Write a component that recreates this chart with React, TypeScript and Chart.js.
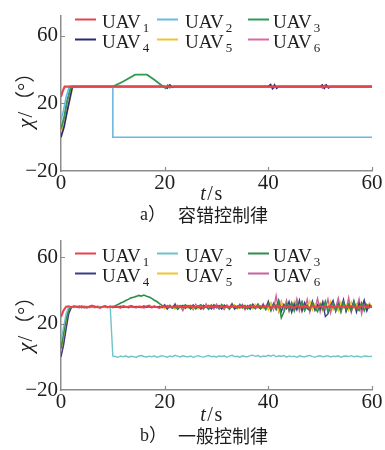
import React, { useEffect, useRef } from 'react';
import { Chart, registerables } from 'chart.js';
Chart.register(...registerables);

// ---------- shared axis settings ----------
const xTicks = [0, 20, 40, 60];
const yTicks = [-20, 20, 60];
const legendName = 'UAV';
const legendSubs = ['1', '2', '3', '4', '5', '6'];
const seriesLabels = ['UAV₁', 'UAV₂', 'UAV₃', 'UAV₄', 'UAV₅', 'UAV₆'];

const colorsA = ['#e0464e', '#6cb8e2', '#2e9a52', '#2a2a72', '#f0c52a', '#dc6aa0'];
const colorsB = ['#e8424a', '#6ec3c8', '#2e8f4a', '#3d3d86', '#f0c52a', '#c9619a'];

// ---------- panel a) fault-tolerant control law ----------
const a1T = [0, 0.3, 0.7, 60];
const a1V = [24, 27, 30, 30];
const a2T = [0, 0.5, 1.0, 1.6, 10, 10, 60];
const a2V = [10, 16, 24, 30, 30, 0, 0];
const a3T = [0, 0.6, 1.2, 2.0, 10, 12, 14.3, 16.6, 18, 19.5, 20.2, 20.6, 21.0, 21.5, 60];
const a3V = [5, 12, 22, 30, 30, 33, 37, 37, 34, 30.5, 29, 30.8, 29.3, 30, 30];
const a4T = [0, 0.6, 1.3, 2.2, 20, 20.5, 21, 21.5, 22, 40, 40.4, 40.8, 41.2, 41.6, 42, 50, 50.4, 50.8, 51.2, 51.6, 52, 60];
const a4V = [0, 6, 17, 30, 30, 29, 31, 29.5, 30, 30, 31.2, 28.8, 31, 29, 30, 30, 31, 29, 30.8, 29.2, 30, 30];
const a5T = [0, 0.7, 1.5, 2.3, 60];
const a5V = [3, 9, 19, 30, 30];
const a6T = [0, 0.5, 1.1, 1.8, 40, 40.5, 41, 41.5, 50, 50.5, 51, 51.5, 60];
const a6V = [1, 8, 19, 30, 30, 31, 29, 30, 30, 29, 31, 30, 30];

// ---------- panel b) general control law ----------
const tB = [
  0, 0.5, 1, 1.5, 2, 2.5, 3, 3.5, 4, 4.5,
  5, 5.5, 6, 6.5, 7, 7.5, 8, 8.5, 9, 9.5,
  10, 10.5, 11, 11.5, 12, 12.5, 13, 13.5, 14, 14.5,
  15, 15.5, 16, 16.5, 17, 17.5, 18, 18.5, 19, 19.5,
  20, 20.5, 21, 21.5, 22, 22.5, 23, 23.5, 24, 24.5,
  25, 25.5, 26, 26.5, 27, 27.5, 28, 28.5, 29, 29.5,
  30, 30.5, 31, 31.5, 32, 32.5, 33, 33.5, 34, 34.5,
  35, 35.5, 36, 36.5, 37, 37.5, 38, 38.5, 39, 39.5,
  40, 40.5, 41, 41.5, 42, 42.5, 43, 43.5, 44, 44.5,
  45, 45.5, 46, 46.5, 47, 47.5, 48, 48.5, 49, 49.5,
  50, 50.5, 51, 51.5, 52, 52.5, 53, 53.5, 54, 54.5,
  55, 55.5, 56, 56.5, 57, 57.5, 58, 58.5, 59, 59.5,
  60,
];
const b1 = [
  24, 28, 30.2, 30.5, 29.8, 30.6, 30.1, 29.7, 30.4, 30.0,
  29.6, 30.3, 30.8, 29.9, 30.2, 29.5, 30.1, 30.6, 29.9, 30.3,
  29.8, 30.4, 30.0, 29.6, 30.5, 30.2, 29.9, 30.7, 30.0, 29.7,
  30.3, 30.1, 29.6, 30.4, 30.9, 29.8, 30.2, 30.0, 29.5, 30.4,
  30.1, 30.6, 29.9, 30.2, 29.7, 30.5, 30.0, 30.3, 29.8, 30.4,
  30.7, 29.9, 30.1, 30.5, 29.6, 30.2, 30.0, 30.8, 29.9, 30.3,
  30.1, 29.7, 30.4, 30.0, 30.6, 29.8, 30.2, 30.5, 29.9, 30.1,
  30.4, 29.6, 30.3, 30.0, 30.7, 29.9, 30.2, 30.5, 29.8, 30.1,
  30.6, 29.5, 30.3, 30.9, 29.7, 30.2, 30.4, 29.8, 30.6, 30.0,
  29.6, 30.5, 30.1, 29.8, 30.7, 30.0, 29.5, 30.4, 30.2, 29.9,
  30.6, 29.7, 30.3, 30.0, 30.8, 29.6, 30.2, 30.5, 29.9, 30.1,
  30.4, 29.8, 30.6, 30.0, 29.5, 30.3, 30.1, 30.7, 29.9, 30.2,
  30.0,
];
const b2 = [
  10, 18, 26, 30.2, 29.8, 30.3, 30.0, 29.7, 30.4, 30.1,
  29.9, 30.2, 30.0, 29.6, 30.3, 30.1, 29.8, 30.4, 30.0, 29.9,
  0.4, 0.2, -0.3, 0.5, 0.0, 0.6, -0.2, 0.3, 0.1, -0.4,
  0.5, 0.8, 0.2, -0.1, 0.4, 0.0, 0.6, -0.3, 0.2, 0.7,
  0.3, -0.2, 0.5, 0.1, 0.9, 0.4, -0.1, 0.6, 0.2, 0.0,
  0.5, -0.3, 0.3, 0.7, 0.1, -0.2, 0.4, 0.8, 0.0, 0.3,
  -0.1, 0.5, 0.2, 0.6, -0.3, 0.4, 0.9, 0.1, 0.3, -0.2,
  0.6, 0.2, 0.0, 0.7, 1.0, 0.3, 0.8, -0.1, 0.5, 0.2,
  0.9, 0.4, 1.1, 0.0, 0.6, 0.3, 0.8, -0.2, 0.5, 0.1,
  0.4, -0.3, 0.6, 0.2, 0.0, 0.5, 0.8, 0.1, -0.2, 0.4,
  0.6, 0.0, 0.3, 0.7, -0.1, 0.4, 0.2, 0.6, -0.3, 0.3,
  0.5, 0.1, 0.7, 0.0, 0.4, 0.2, -0.2, 0.5, 0.3, 0.1,
  0.3,
];
const b3 = [
  5, 14, 23, 28.5, 30.1, 29.7, 30.4, 30.0, 29.6, 30.3,
  30.1, 29.8, 30.5, 30.0, 29.7, 30.2, 29.9, 30.4, 30.0, 30.3,
  30.2, 30.8, 31.5, 32.4, 33.0, 33.9, 34.6, 35.5, 35.9, 36.4,
  37.0, 36.6, 37.2, 36.5, 36.0, 35.2, 34.1, 33.3, 32.0, 31.0,
  30.2, 29.5, 31.0, 29.3, 30.6, 28.9, 30.8, 29.6, 31.3, 30.0,
  29.2, 30.9, 28.8, 30.5, 31.4, 29.4, 30.2, 28.7, 31.1, 29.8,
  30.6, 29.0, 31.5, 29.7, 30.3, 28.6, 31.0, 30.1, 29.3, 31.6,
  29.5, 30.8, 28.9, 31.2, 30.0, 29.1, 31.8, 29.4, 30.6, 28.5,
  32.0, 28.4, 31.5, 29.0, 33.1, 23.5, 27.0, 31.8, 28.2, 32.5,
  27.6, 31.9, 29.3, 33.0, 27.8, 30.9, 28.1, 32.6, 29.5, 27.3,
  31.7, 28.6, 33.4, 27.1, 30.5, 32.2, 28.0, 31.3, 26.9, 32.8,
  28.4, 31.0, 27.5, 33.2, 29.2, 28.0, 32.4, 27.7, 31.5, 29.6,
  30.4,
];
const b4 = [
  0, 7, 17, 26, 29.7, 30.2, 29.9, 30.4, 30.0, 29.6,
  30.3, 30.0, 29.8, 30.5, 30.1, 29.7, 30.2, 30.4, 29.9, 30.1,
  30.3, 29.8, 30.1, 30.5, 29.9, 30.2, 29.6, 30.4, 30.0, 30.3,
  29.8, 30.1, 30.6, 29.9, 30.2, 29.7, 30.4, 30.0, 30.3, 29.6,
  31.2, 28.9, 30.7, 29.4, 31.5, 28.6, 30.3, 31.0, 29.2, 30.8,
  28.8, 31.3, 29.6, 30.4, 28.7, 31.1, 29.9, 30.6, 28.9, 31.4,
  29.5, 30.9, 28.8, 31.2, 30.0, 29.3, 31.6, 28.9, 30.5, 29.7,
  31.0, 29.1, 30.7, 28.6, 31.5, 29.8, 30.3, 28.8, 31.2, 29.4,
  33.5, 27.8, 32.1, 28.5, 34.0, 27.2, 31.6, 29.0, 33.3, 26.8,
  31.9, 28.3, 34.2, 27.5, 32.7, 29.1, 28.0, 33.6, 27.9, 31.4,
  28.6, 32.8, 24.2, 25.8, 31.0, 33.9, 27.4, 32.2, 28.7, 34.5,
  27.2, 31.8, 28.5, 33.7, 26.9, 32.3, 29.0, 34.1, 27.6, 31.2,
  29.5,
];
const b5 = [
  3, 11, 21, 27.5, 30.0, 29.8, 30.3, 30.1, 29.7, 30.4,
  30.0, 29.9, 30.2, 30.5, 29.8, 30.1, 30.3, 29.7, 30.0, 30.4,
  29.9, 30.2, 30.0, 29.6, 30.4, 30.1, 29.8, 30.3, 30.5, 29.9,
  30.2, 29.7, 30.1, 30.4, 29.9, 30.3, 30.0, 29.8, 30.5, 30.1,
  29.0, 31.1, 29.8, 30.6, 28.8, 31.3, 29.5, 30.9, 29.1, 30.4,
  31.2, 29.3, 30.7, 28.9, 31.0, 29.6, 30.8, 29.2, 31.5, 29.9,
  30.4, 28.7, 31.3, 29.5, 30.9, 29.0, 30.6, 31.4, 28.9, 30.2,
  29.3, 31.1, 29.8, 30.5, 28.8, 31.6, 29.4, 30.7, 29.1, 31.0,
  28.2, 32.5, 29.4, 31.8, 27.6, 33.0, 28.9, 32.3, 29.7, 27.9,
  33.2, 28.6, 31.4, 27.4, 32.8, 29.5, 33.6, 28.1, 31.7, 29.0,
  32.4, 27.7, 31.2, 29.6, 33.5, 28.3, 30.8, 27.5, 32.9, 29.3,
  31.6, 27.9, 33.1, 29.4, 31.9, 28.1, 32.6, 29.8, 28.4, 32.0,
  30.2,
];
const b6 = [
  1, 9, 20, 27, 30.3, 29.9, 30.1, 30.4, 29.8, 30.2,
  29.7, 30.3, 30.0, 29.8, 30.4, 30.1, 29.9, 30.2, 29.6, 30.3,
  30.0, 30.4, 29.7, 30.2, 30.1, 29.8, 30.5, 30.0, 29.9, 30.3,
  30.1, 29.6, 30.4, 30.0, 29.8, 30.2, 30.5, 29.7, 30.1, 29.9,
  31.4, 28.7, 30.9, 29.3, 32.0, 28.9, 30.6, 27.8, 31.2, 29.5,
  30.8, 28.4, 31.6, 29.7, 30.2, 28.6, 31.9, 29.4, 30.5, 28.8,
  31.7, 29.2, 30.4, 28.5, 31.3, 29.9, 32.2, 28.7, 30.6, 29.1,
  31.5, 28.3, 30.9, 29.6, 31.8, 28.9, 30.5, 29.2, 32.1, 28.4,
  30.7, 32.4, 28.2, 36.8, 27.5, 33.4, 28.6, 34.1, 27.3, 32.6,
  29.0, 35.0, 27.7, 33.2, 28.4, 34.6, 26.9, 32.9, 29.3, 35.2,
  27.0, 33.5, 28.8, 34.7, 26.5, 32.1, 29.6, 35.4, 27.4, 33.0,
  28.1, 35.6, 26.8, 32.5, 29.2, 34.9, 25.8, 33.6, 28.3, 32.2,
  30.0,
];

// ---------- styling ----------
const AXIS = '#8c8c8c';
const TEXT = '#1e1e1e';
const SERIF = '"Liberation Serif", "Times New Roman", serif';
const CJK = '"Noto Sans CJK SC", sans-serif';
const legendLineX = [75, 157, 248];
const legendTextX = [102, 185, 273];

type PanelCfg = {
  series: { t: number[]; v: number[] }[];
  colors: string[];
  widths: number[];
  yMax: number;
  padBottom: number;
  legendBase: number[];
  xTitleBase: number;
  yTitleCY: number;
  captionY: number;
  captionTag: string;
  captionText: string;
};

const fmt = (v: number) => (v < 0 ? '\u2212' + Math.abs(v) : String(v));

function overlay(p: PanelCfg) {
  return {
    id: 'overlay',
    afterDraw(chart: any) {
      const { ctx, chartArea: ca } = chart;
      const xs = chart.scales.x;
      const ys = chart.scales.y;
      ctx.save();
      // inward tick marks
      ctx.strokeStyle = AXIS;
      ctx.lineWidth = 1.2;
      ctx.beginPath();
      for (const v of xTicks) {
        if (v === 0) continue;
        const px = Math.round(xs.getPixelForValue(v)) + 0.5;
        ctx.moveTo(px, ca.bottom);
        ctx.lineTo(px, ca.bottom - 4);
      }
      for (const v of yTicks) {
        if (v === -20) continue;
        const py = Math.round(ys.getPixelForValue(v)) + 0.5;
        ctx.moveTo(ca.left, py);
        ctx.lineTo(ca.left + 4, py);
      }
      ctx.stroke();

      // legend (3 columns x 2 rows inside plot)
      chart.data.datasets.forEach((ds: any, i: number) => {
        const col = i % 3;
        const row = Math.floor(i / 3);
        const by = p.legendBase[row];
        ctx.strokeStyle = ds.borderColor;
        ctx.lineWidth = 2;
        ctx.beginPath();
        ctx.moveTo(legendLineX[col], by - 8.5);
        ctx.lineTo(legendLineX[col] + 21, by - 8.5);
        ctx.stroke();
        ctx.fillStyle = TEXT;
        ctx.textAlign = 'left';
        ctx.textBaseline = 'alphabetic';
        ctx.font = `19px ${SERIF}`;
        ctx.fillText(legendName, legendTextX[col], by);
        const w = ctx.measureText(legendName).width;
        ctx.font = `13px ${SERIF}`;
        ctx.fillText(legendSubs[i], legendTextX[col] + w + 2, by + 4);
      });

      // x title: t / s
      ctx.fillStyle = TEXT;
      ctx.textBaseline = 'alphabetic';
      const xParts = [
        { s: 't', f: `italic 20px ${SERIF}` },
        { s: '/', f: `20px ${SERIF}` },
        { s: 's', f: `20px ${SERIF}` },
      ];
      let tot = 0;
      const ws: number[] = [];
      for (const pt of xParts) {
        ctx.font = pt.f;
        const w = ctx.measureText(pt.s).width;
        ws.push(w);
        tot += w + 1.5;
      }
      let cx = 212 - tot / 2;
      xParts.forEach((pt, i) => {
        ctx.font = pt.f;
        ctx.fillText(pt.s, cx, p.xTitleBase);
        cx += ws[i] + 1.5;
      });

      // y title: χ/(°), rotated
      ctx.save();
      ctx.translate(25, p.yTitleCY);
      ctx.rotate(-Math.PI / 2);
      const yParts = [
        { s: 'χ', f: `italic 22px ${SERIF}` },
        { s: '/', f: `21px ${SERIF}` },
        { s: '（°）', f: `20px ${SERIF}, ${CJK}` },
      ];
      let tot2 = 0;
      const ws2: number[] = [];
      for (const pt of yParts) {
        ctx.font = pt.f;
        const w = ctx.measureText(pt.s).width;
        ws2.push(w);
        tot2 += w + 1;
      }
      let cy = -tot2 / 2;
      yParts.forEach((pt, i) => {
        ctx.font = pt.f;
        ctx.fillText(pt.s, cy, 7);
        cy += ws2[i] + 1;
      });
      ctx.restore();

      // caption
      ctx.textBaseline = 'middle';
      ctx.font = `18px ${SERIF}, ${CJK}`;
      ctx.fillText(p.captionTag, 140, p.captionY);
      ctx.font = `18px ${CJK}`;
      ctx.fillText(p.captionText, 178, p.captionY);
      ctx.restore();
    },
  };
}

function Panel({ p }: { p: PanelCfg }) {
  const ref = useRef<HTMLCanvasElement>(null);
  useEffect(() => {
    const datasets = p.series.map((s, i) => ({
      label: seriesLabels[i],
      data: s.t.map((t, k) => ({ x: t, y: s.v[k] })),
      borderColor: p.colors[i],
      backgroundColor: p.colors[i],
      borderWidth: p.widths[i],
      pointRadius: 0,
      tension: 0,
      fill: false,
    }));
    const tickFont = { family: SERIF, size: 21 };
    const chart = new Chart(ref.current as HTMLCanvasElement, {
      type: 'line',
      data: { datasets },
      options: {
        animation: false,
        responsive: false,
        maintainAspectRatio: false,
        layout: { padding: { top: 15, right: 13, left: 0, bottom: 0 } },
        plugins: { legend: { display: false }, tooltip: { enabled: false }, title: { display: false } },
        scales: {
          x: {
            type: 'linear',
            min: 0,
            max: 60,
            afterBuildTicks: (s: any) => {
              s.ticks = xTicks.map((v) => ({ value: v }));
            },
            afterFit: (s: any) => {
              s.height = p.padBottom;
            },
            grid: { display: true, drawOnChartArea: false, drawTicks: false },
            border: { display: true, color: AXIS, width: 1.5 },
            ticks: { font: tickFont, color: TEXT, padding: 0, maxRotation: 0, autoSkip: false, callback: (v: any) => fmt(Number(v)) },
          },
          y: {
            type: 'linear',
            min: -20,
            max: p.yMax,
            afterBuildTicks: (s: any) => {
              s.ticks = yTicks.map((v) => ({ value: v }));
            },
            afterFit: (s: any) => {
              s.width = 61;
            },
            grid: { display: true, drawOnChartArea: false, drawTicks: false },
            border: { display: true, color: AXIS, width: 1.5 },
            ticks: { font: tickFont, color: TEXT, padding: 3, autoSkip: false, callback: (v: any) => fmt(Number(v)) },
          },
        },
      },
      plugins: [overlay(p)],
    } as any);
    return () => chart.destroy();
  }, []);
  return <canvas ref={ref} width={385} height={225} style={{ display: 'block', width: 385, height: 225 }} />;
}

const panelA: PanelCfg = {
  series: [
    { t: a1T, v: a1V },
    { t: a2T, v: a2V },
    { t: a3T, v: a3V },
    { t: a4T, v: a4V },
    { t: a5T, v: a5V },
    { t: a6T, v: a6V },
  ],
  colors: colorsA,
  widths: [2.2, 1.6, 1.8, 1.6, 1.6, 1.6],
  yMax: 72,
  padBottom: 54,
  legendBase: [28, 48],
  xTitleBase: 200,
  yTitleCY: 95,
  captionY: 215,
  captionTag: 'a）',
  captionText: '容错控制律',
};

const panelB: PanelCfg = {
  series: [
    { t: tB, v: b1 },
    { t: tB, v: b2 },
    { t: tB, v: b3 },
    { t: tB, v: b4 },
    { t: tB, v: b5 },
    { t: tB, v: b6 },
  ],
  colors: colorsB,
  widths: [2.0, 1.4, 1.6, 1.4, 1.4, 1.4],
  yMax: 70,
  padBottom: 60,
  legendBase: [37, 57],
  xTitleBase: 196,
  yTitleCY: 94,
  captionY: 211,
  captionTag: 'b）',
  captionText: '一般控制律',
};

export default function App() {
  return (
    <div style={{ position: 'absolute', left: 0, top: 0, width: 385, height: 450, background: '#fff' }}>
      <Panel p={panelA} />
      <Panel p={panelB} />
    </div>
  );
}
